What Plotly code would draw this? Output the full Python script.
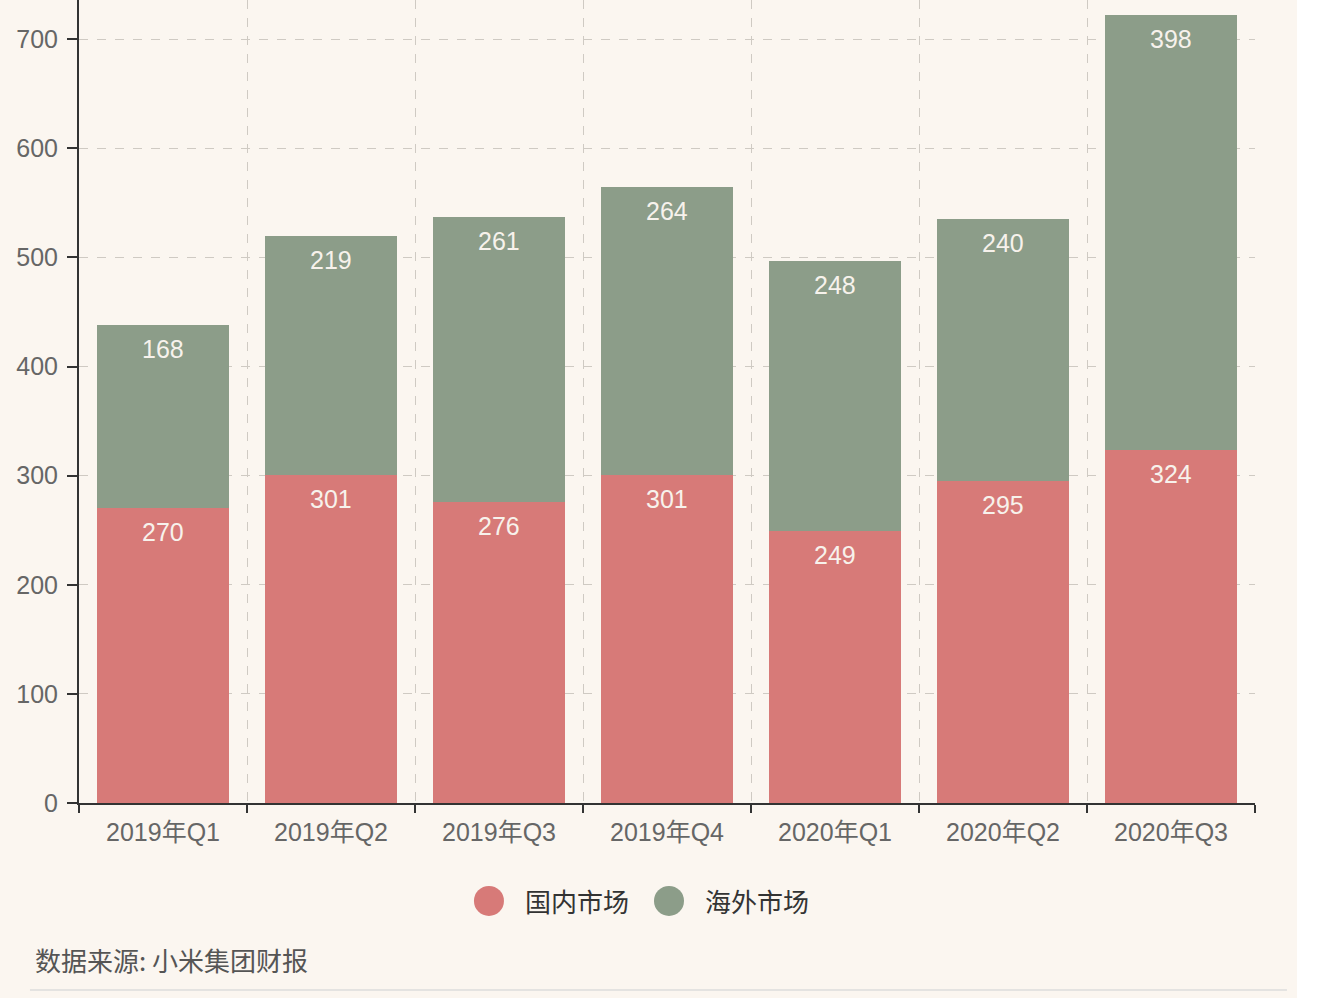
import plotly.graph_objects as go

categories = ["2019年Q1", "2019年Q2", "2019年Q3", "2019年Q4", "2020年Q1", "2020年Q2", "2020年Q3"]
domestic = [270, 301, 276, 301, 249, 295, 324]
overseas = [168, 219, 261, 264, 248, 240, 398]
series_names = ["国内市场", "海外市场"]
y_ticks = [0, 100, 200, 300, 400, 500, 600, 700]
source_text = "数据来源: 小米集团财报"

RED = "#D77A78"
GREEN = "#8C9D89"
BG = "#FBF6F0"
FONT = "Liberation Sans, Arial, Noto Sans CJK SC, sans-serif"

fig = go.Figure()
fig.add_trace(go.Bar(x=categories, y=domestic, name=series_names[0],
                     marker=dict(color=RED, line=dict(width=0)), showlegend=False))
fig.add_trace(go.Bar(x=categories, y=overseas, name=series_names[1],
                     marker=dict(color=GREEN, line=dict(width=0)), showlegend=False))

annotations = []
for c, d, o in zip(categories, domestic, overseas):
    annotations.append(dict(x=c, y=d, text=str(d), showarrow=False, yshift=-24,
                            xref="x", yref="y", yanchor="middle",
                            font=dict(size=25, color="#F7F2EC", family=FONT)))
    annotations.append(dict(x=c, y=d + o, text=str(o), showarrow=False, yshift=-24,
                            xref="x", yref="y", yanchor="middle",
                            font=dict(size=25, color="#F7F2EC", family=FONT)))

# manual legend
legend_items = [(0.3486, 0.3776, RED, series_names[0]), (0.5017, 0.5306, GREEN, series_names[1])]
shapes = []
for cx, tx, col, name in legend_items:
    shapes.append(dict(type="circle", xref="paper", yref="paper", xsizemode="pixel",
                       ysizemode="pixel", xanchor=cx, yanchor=-0.122,
                       x0=-15, x1=15, y0=-15, y1=15, fillcolor=col, line=dict(width=0)))
    annotations.append(dict(x=tx, y=-0.122, xref="paper", yref="paper", text=name,
                            showarrow=False, xanchor="left", yanchor="middle",
                            font=dict(size=26, color="#333333", family="Noto Sans CJK SC")))

annotations.append(dict(x=-0.0391, y=-0.1955, xref="paper", yref="paper", text=source_text,
                        showarrow=False, xanchor="left", yanchor="middle",
                        font=dict(size=26, color="#555555", family="Noto Sans CJK SC")))

shapes.append(dict(type="line", xref="paper", yref="paper", x0=-0.0417, x1=1.0272,
                   y0=-0.2329, y1=-0.2329, line=dict(color="#DDDDDD", width=1.5)))
shapes.append(dict(type="rect", xref="paper", yref="paper", x0=1.0357, x1=1.2,
                   y0=-0.3, y1=1.1, fillcolor="#FFFFFF", line=dict(width=0), layer="below"))

fig.update_layout(
    width=1320, height=998,
    margin=dict(l=79, r=65, t=0, b=195),
    paper_bgcolor=BG, plot_bgcolor=BG,
    barmode="stack", bargap=0.21,
    font=dict(family=FONT, size=24, color="#666666"),
    annotations=annotations, shapes=shapes,
    xaxis=dict(type="category", tickson="boundaries", ticks="outside", ticklen=8,
               tickwidth=2, tickcolor="#333333", showline=True, linecolor="#333333",
               linewidth=2, showgrid=True, gridcolor="#CFCAC3", griddash="dash",
               gridwidth=1, tickfont=dict(size=25, color="#666666",
               family="Liberation Sans, Noto Sans CJK SC"), ticklabelstandoff=6),
    yaxis=dict(range=[0, 736], tickvals=y_ticks, ticks="outside", ticklen=10,
               tickwidth=2, tickcolor="#333333", showline=True, linecolor="#333333",
               linewidth=2, showgrid=True, gridcolor="#CFCAC3", griddash="dash",
               gridwidth=1, zeroline=False, tickfont=dict(size=25, color="#666666"),
               ticklabelstandoff=4),
)

fig.write_html("out.html")
